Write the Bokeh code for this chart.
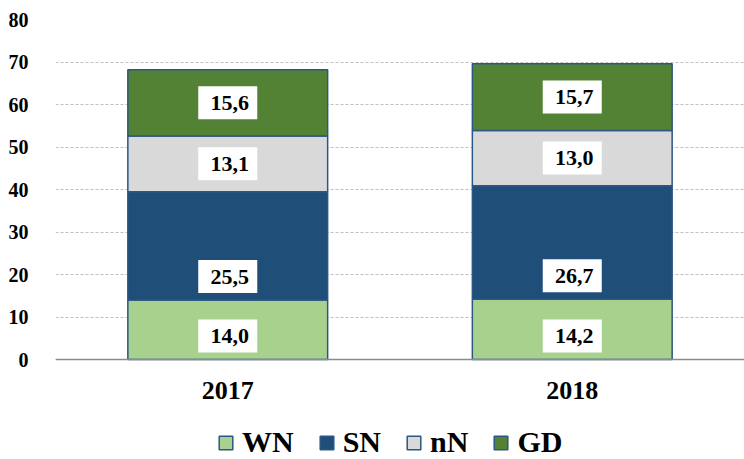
from bokeh.plotting import figure
from bokeh.models import ColumnDataSource, Legend, LegendItem
from bokeh.core.properties import value
from bokeh.embed import file_html
from bokeh.resources import INLINE

# ---- data ----
years = ["2017", "2018"]
series = ["WN", "SN", "nN", "GD"]
wn = [14.0, 14.2]
sn = [25.5, 26.7]
nn = [13.1, 13.0]
gd = [15.6, 15.7]
y_ticks = [0, 10, 20, 30, 40, 50, 60, 70, 80]
colors = ["#A9D18E", "#1F4E79", "#D9D9D9", "#548235"]

FONT = "Liberation Serif"
W, H = 744, 459
B_LEFT, B_TOP = 55, 19
Y_MAX = 80
PX = 4.25                       # pixels per value unit
Y_MIN = -(H - B_TOP - Y_MAX * PX) / PX   # frame reaches down to the legend

src = ColumnDataSource(dict(year=years, WN=wn, SN=sn, nN=nn, GD=gd))

p = figure(x_range=years, y_range=(Y_MIN, Y_MAX), width=W, height=H,
           output_backend="svg", toolbar_location=None,
           min_border_left=B_LEFT, min_border_right=0,
           min_border_top=B_TOP, min_border_bottom=0)
p.outline_line_color = None

rends = p.vbar_stack(series, x="year", width=0.58, color=colors, source=src,
                     line_color="#2A5783", line_width=1.5)

# ---- value labels ----
vals = dict(WN=wn, SN=sn, nN=nn, GD=gd)
lx, ly, lt = [], [], []
base_mode = {"WN": True, "SN": True, "nN": False, "GD": False}
box_w, box_h, base_pad = 59, 33, 7
for i, yr in enumerate(years):
    bottom = 0.0
    for s in series:
        v = vals[s][i]
        if base_mode[s]:
            yc = bottom + (base_pad + box_h / 2) / PX
        else:
            yc = bottom + v / 2
        lx.append(yr)
        ly.append(yc)
        lt.append(f"{v:.1f}".replace(".", ","))
        bottom += v
lsrc = ColumnDataSource(dict(x=lx, y=ly, text=lt))
p.rect(x="x", y="y", width=box_w, height=box_h, width_units="screen",
       height_units="screen", fill_color="white", line_color=None, source=lsrc)
p.text(x="x", y="y", text="text", source=lsrc, x_offset=2,
       text_font=value(FONT), text_font_style="bold", text_font_size="22px",
       text_align="center", text_baseline="middle", text_color="black")

# ---- axes ----
p.yaxis.ticker = y_ticks
p.yaxis.axis_line_color = None
p.yaxis.major_tick_line_color = None
p.yaxis.minor_tick_line_color = None
p.yaxis.major_label_standoff = 21
p.yaxis.major_label_text_font = FONT
p.yaxis.major_label_text_font_style = "bold"
p.yaxis.major_label_text_font_size = "20px"
p.yaxis.major_label_text_color = "black"

p.xaxis.fixed_location = 0
p.xaxis.axis_line_color = "#8C8C8C"
p.xaxis.axis_line_width = 1.5
p.xaxis.major_tick_line_color = None
p.xaxis.minor_tick_line_color = None
p.xaxis.major_label_standoff = 16
p.xaxis.major_label_text_font = FONT
p.xaxis.major_label_text_font_style = "bold"
p.xaxis.major_label_text_font_size = "26px"
p.xaxis.major_label_text_color = "black"

p.xgrid.grid_line_color = None
p.ygrid.grid_line_color = "#BFBFBF"
p.ygrid.grid_line_dash = "3 2"
p.ygrid.grid_line_width = 1

# ---- legend ----
legend = Legend(items=[LegendItem(label=s, renderers=[r]) for s, r in zip(series, rends)],
                orientation="horizontal", location=(162, 0),
                glyph_width=17, glyph_height=17, label_standoff=8, spacing=24,
                padding=0, margin=0,
                label_text_font=FONT, label_text_font_style="bold",
                label_text_font_size="30px", label_text_color="black",
                background_fill_alpha=0, border_line_color=None)
p.add_layout(legend, "center")

open("out.html", "w").write(file_html(p, INLINE))
